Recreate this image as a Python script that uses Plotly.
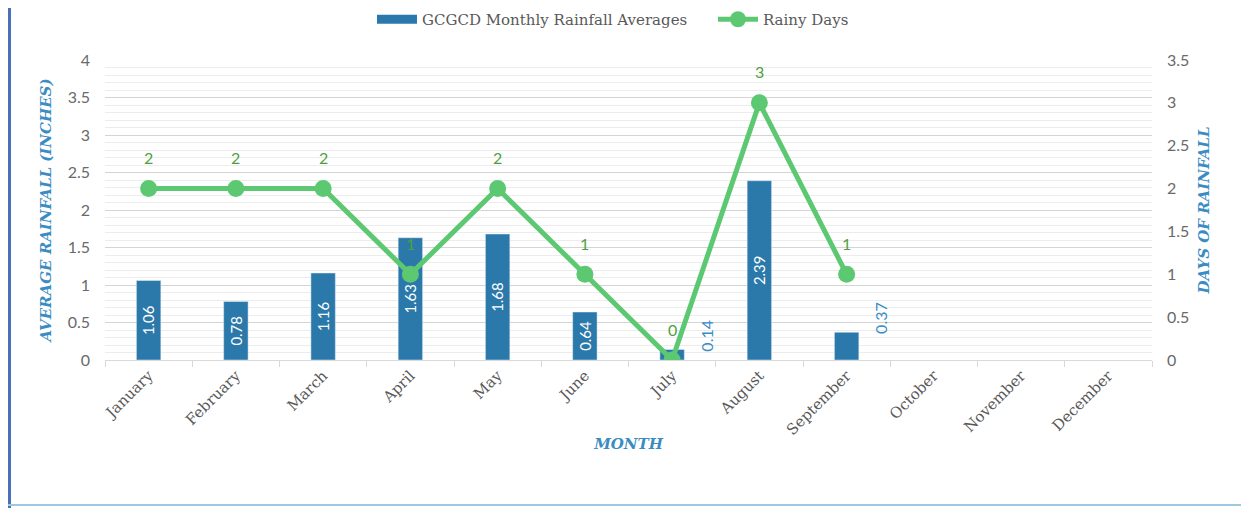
import plotly.graph_objects as go

months = ['January', 'February', 'March', 'April', 'May', 'June',
          'July', 'August', 'September', 'October', 'November', 'December']
rainfall = [1.06, 0.78, 1.16, 1.63, 1.68, 0.64, 0.14, 2.39, 0.37, None, None, None]
rainy_days = [2, 2, 2, 1, 2, 1, 0, 3, 1, None, None, None]

BAR_BLUE = '#2b79aa'
TITLE_BLUE = '#3a8cc2'
GREEN = '#5dc872'
LABEL_GREEN = '#4f9f3f'

# bars tall enough carry their label inside, small ones get it beside
bar_text = ['%.2f' % v if v is not None and v >= 0.5 else '' for v in rainfall]

fig = go.Figure()

fig.add_trace(go.Bar(
    x=months,
    y=rainfall,
    name='GCGCD Monthly Rainfall Averages',
    marker_color=BAR_BLUE,
    width=0.28,
    text=bar_text,
    textposition='inside',
    insidetextanchor='middle',
    textangle=-90,
    textfont=dict(family='Lato, sans-serif', size=17, color='white'),
    showlegend=False,
    yaxis='y'
))

# legend-only entry so the bar key is a wide block like the original
fig.add_trace(go.Scatter(
    x=[None], y=[None],
    name='GCGCD Monthly Rainfall Averages',
    mode='lines',
    line=dict(color=BAR_BLUE, width=9),
))

fig.add_trace(go.Scatter(
    x=months,
    y=rainy_days,
    name='Rainy Days',
    mode='lines+markers',
    line=dict(color=GREEN, width=5),
    marker=dict(color=GREEN, size=17),
    yaxis='y2'
))

annotations = []
for m, v in zip(months, rainfall):
    if v is not None and v < 0.5:
        annotations.append(dict(
            x=m, y=v, xref='x', yref='y', text='%.2f' % v,
            showarrow=False, textangle=-90, xshift=34, yshift=-4,
            yanchor='bottom',
            font=dict(family='Lato, sans-serif', size=16, color=TITLE_BLUE)
        ))

for m, d in zip(months, rainy_days):
    if d is not None:
        annotations.append(dict(
            x=m, y=d, xref='x', yref='y2', text=str(d),
            showarrow=False, yshift=31,
            font=dict(family='Lato, sans-serif', size=16, color=LABEL_GREEN)
        ))

# frame lines on the left and bottom edges of the picture
shapes = [
    dict(type='line', xref='paper', yref='paper', x0=-0.0912, x1=-0.0912, y0=-0.5, y1=1.2,
         line=dict(color='#4a6fb5', width=3)),
    dict(type='line', xref='paper', yref='paper', x0=-0.0926, x1=1.1, y0=-0.483, y1=-0.483,
         line=dict(color='#9cc8e0', width=2)),
]

fig.update_layout(
    width=1241,
    height=500,
    margin=dict(l=97, r=97, t=52, b=148, autoexpand=False),
    plot_bgcolor='white',
    paper_bgcolor='white',
    font=dict(family='Lato, sans-serif', color='#595959'),
    showlegend=True,
    legend=dict(
        orientation='h',
        xanchor='left', x=0.255,
        yanchor='middle', y=1.135,
        font=dict(family='DejaVu Serif, serif', size=15, color='#595959'),
        itemwidth=40,
        entrywidth=286,
        tracegroupgap=0,
    ),
    xaxis=dict(
        automargin=False,
        categoryorder='array',
        categoryarray=months,
        range=[-0.5, 11.5],
        tickangle=-45,
        tickfont=dict(family='DejaVu Serif, serif', size=15, color='#595959'),
        ticks='outside',
        tickson='boundaries',
        ticklen=6,
        tickcolor='#d9d9d9',
        showline=True,
        linecolor='#d9d9d9',
        showgrid=False,
        title=dict(text='<b><i>MONTH</i></b>', standoff=0,
                   font=dict(family='DejaVu Serif, serif', size=15, color=TITLE_BLUE)),
    ),
    yaxis=dict(
        automargin=False,
        range=[0, 4],
        dtick=0.5,
        tickfont=dict(size=16, color='#6a6a6a'),
        ticklabelstandoff=14,
        showgrid=True,
        gridcolor='#d4d4d4',
        zeroline=False,
        minor=dict(dtick=0.1, showgrid=True, gridcolor='#ececec'),
        title=dict(text='<b><i>AVERAGE RAINFALL (INCHES)</i></b>', standoff=12,
                   font=dict(family='DejaVu Serif, serif', size=15, color=TITLE_BLUE)),
    ),
    yaxis2=dict(
        automargin=False,
        range=[0, 3.5],
        dtick=0.5,
        overlaying='y',
        side='right',
        showgrid=False,
        zeroline=False,
        tickfont=dict(size=16, color='#6a6a6a'),
        ticklabelstandoff=14,
        title=dict(text='<b><i>DAYS OF RAINFALL</i></b>', standoff=10,
                   font=dict(family='DejaVu Serif, serif', size=15, color=TITLE_BLUE)),
    ),
    annotations=annotations,
    shapes=shapes,
)

fig.write_html('out.html')
